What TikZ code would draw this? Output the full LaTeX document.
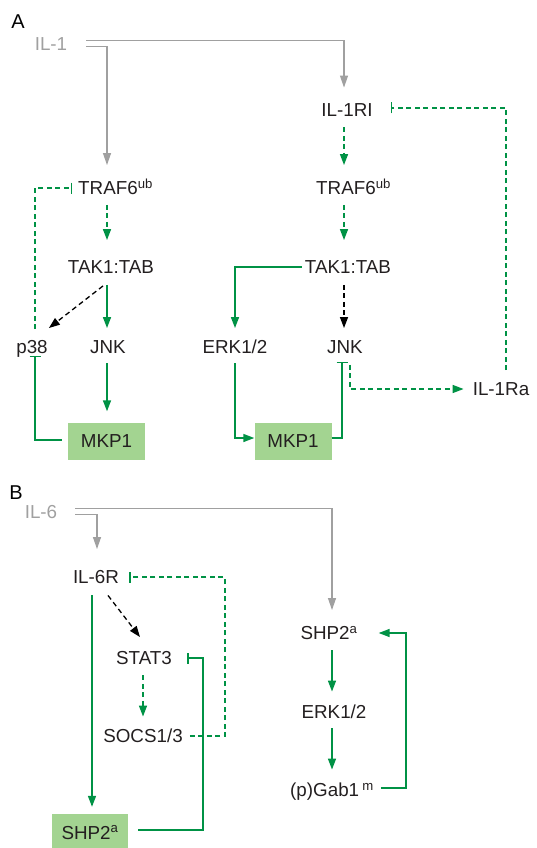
\documentclass[tikz,border=0pt]{standalone}
\usepackage{fontspec}
\setmainfont{Liberation Sans}
\usetikzlibrary{arrows.meta,calc}
\definecolor{gc}{RGB}{0,146,69}
\definecolor{bf}{RGB}{163,212,145}
\definecolor{gr}{RGB}{160,160,160}
\definecolor{tc}{RGB}{35,31,32}
\begin{document}
\begin{tikzpicture}[x=1pt,y=-1pt,
  lbl/.style={inner sep=0pt, text height=13.5pt, text depth=0pt, font=\fontsize{18.8}{21}\selectfont, text=tc},
  panellbl/.style={lbl, font=\fontsize{20}{22}\selectfont, text=black},
  boxnode/.style={lbl, fill=bf, minimum width=77pt, minimum height=37pt},
  greyarrow/.style={draw=gr, line width=1.2pt, -{Triangle[length=12pt,width=8pt]}},
  garrow/.style={draw=gc, line width=1.5pt, -{Triangle[length=11pt,width=8pt]}},
  gdasharrow/.style={garrow, dash pattern=on 5pt off 3.5pt},
  kdasharrow/.style={draw=black, line width=1.3pt, dash pattern=on 5pt off 3.5pt, -{Triangle[length=11pt,width=8pt]}},
  ginh/.style={draw=gc, line width=1.5pt, -{Bar[width=11pt]}},
  gdashinh/.style={ginh, dash pattern=on 5pt off 3.5pt}
]
\useasboundingbox (0,0) rectangle (536,848);
% column coordinates
\coordinate (colL) at (107,0);
\coordinate (colR) at (344,0);
\coordinate (col6) at (97,0);
\coordinate (c92) at (92,0);
\coordinate (colS) at (143,0);
\coordinate (colB) at (332,0);

% ---------------- Panel A ----------------
\node[panellbl] (labA) at (18,22) {A};
\node[lbl, text=gr] (il1) at (51,44) {IL-1};
\node[lbl] (traf6L) at (108,188) {TRAF6\rlap{\textsuperscript{ub}}};
\node[lbl] (tak1L) at (111,267) {TAK1:TAB};
\node[lbl] (p38) at (32,347) {p38};
\node[lbl] (jnkL) at (108,347) {JNK};
\node[boxnode] (mkp1L) at (106.5,441) {MKP1};
\node[lbl] (il1ri) at (347,110) {IL-1RI};
\node[lbl] (traf6R) at (346,188) {TRAF6\rlap{\textsuperscript{ub}}};
\node[lbl] (tak1R) at (348,267) {TAK1:TAB};
\node[lbl] (erkL) at (235,347) {ERK1/2};
\node[lbl] (jnkR) at (345,347) {JNK};
\node[boxnode] (mkp1R) at (293,441) {MKP1};
\node[lbl] (il1ra) at (501,389) {IL-1Ra};

\draw[greyarrow, shorten >=15.5pt] ([xshift=19pt,yshift=3.2pt]il1.east) -| (il1ri.north -| colR);
\draw[greyarrow, shorten >=16pt] ([xshift=19pt,yshift=-2.2pt]il1.east) -| (traf6L.north -| colL);
\draw[gdasharrow, shorten <=10pt, shorten >=20pt] (traf6L.south -| colL) -- (tak1L.north -| colL);
\draw[garrow, shorten <=11pt, shorten >=12pt] (tak1L.south -| colL) -- (jnkL.north -| colL);
\draw[kdasharrow] ($(tak1L.south)+(-8,12)$) -- ($(p38.north east)+(1,-12)$);
\draw[garrow, shorten <=9.5pt, shorten >=11pt] (jnkL.south -| colL) -- (mkp1L.north -| colL);
\draw[ginh, shorten <=6pt, shorten >=2pt] ([yshift=1pt]mkp1L.west) -| ([xshift=3pt]p38.south);
\draw[gdashinh, shorten <=11pt, shorten >=6pt] ([xshift=3pt]p38.north) |- (traf6L.west);

\draw[gdasharrow, shorten <=10.5pt, shorten >=16pt] (il1ri.south -| colR) -- (traf6R.north -| colR);
\draw[gdasharrow, shorten <=10pt, shorten >=20pt] (traf6R.south -| colR) -- (tak1R.north -| colR);
\draw[kdasharrow, shorten <=11pt, shorten >=12pt] (tak1R.south -| colR) -- (jnkR.north -| colR);
\draw[garrow, shorten <=3pt, shorten >=12pt] (tak1R.west) -| (erkL.north);
\draw[garrow, shorten <=9.5pt] (erkL.south) |- ([yshift=3pt]mkp1R.west);
\draw[ginh, shorten >=8pt] ([yshift=3pt]mkp1R.east) -| ([xshift=-3pt]jnkR.south);
\draw[gdasharrow, shorten <=11pt, shorten >=9pt] ([xshift=5pt]jnkR.south) |- (il1ra.west);
\draw[gdashinh, shorten <=12pt, shorten >=18pt] ([xshift=5pt]il1ra.north) |- ([yshift=2pt]il1ri.east);

% ---------------- Panel B ----------------
\node[panellbl] (labB) at (16,493) {B};
\node[lbl, text=gr] (il6) at (41,512) {IL-6};
\node[lbl] (il6r) at (96,577) {IL-6R};
\node[lbl] (stat3) at (144,658) {STAT3};
\node[lbl] (socs) at (143,736) {SOCS1/3};
\node[boxnode, minimum width=76pt] (shp2L) at (90,832.5) {SHP2\textsuperscript{a}};
\node[lbl] (shp2R) at (329,633) {SHP2\textsuperscript{a}};
\node[lbl] (erkR) at (334,712) {ERK1/2};
\node[lbl] (gab1) at (332,790) {(p)Gab1\,\textsuperscript{m}};

\draw[greyarrow, shorten >=16pt] ([xshift=18pt,yshift=3.5pt]il6.east) -| (shp2R.north -| colB);
\draw[greyarrow, shorten >=21pt] ([xshift=18pt,yshift=-2.2pt]il6.east) -| (il6r.north -| col6);
\draw[garrow, shorten <=11.5pt, shorten >=7pt] (il6r.south -| c92) -- (shp2L.north -| c92);
\draw[kdasharrow] ($(il6r.south)+(12,11.5)$) -- ($(stat3.north)+(-4,-14)$);
\draw[gdasharrow, shorten <=10.5pt, shorten >=12.5pt] (stat3.south -| colS) -- (socs.north -| colS);
\draw[gdashinh, shorten >=10pt] ([xshift=7pt]socs.east) -- ([xshift=42pt]socs.east) |- (il6r.east);
\draw[ginh, shorten >=15pt] ([xshift=10pt,yshift=2.5pt]shp2L.east) -- ([xshift=75pt,yshift=2.5pt]shp2L.east) |- (stat3.east);
\draw[garrow, shorten <=10.5pt, shorten >=13.5pt] (shp2R.south -| colB) -- (erkR.north -| colB);
\draw[garrow, shorten <=9.5pt, shorten >=13.5pt] (erkR.south -| colB) -- (gab1.north -| colB);
\draw[garrow, shorten >=21pt] ([xshift=7pt,yshift=2pt]gab1.east) -- ([xshift=32pt,yshift=2pt]gab1.east) |- (shp2R.east);
\end{tikzpicture}
\end{document}
